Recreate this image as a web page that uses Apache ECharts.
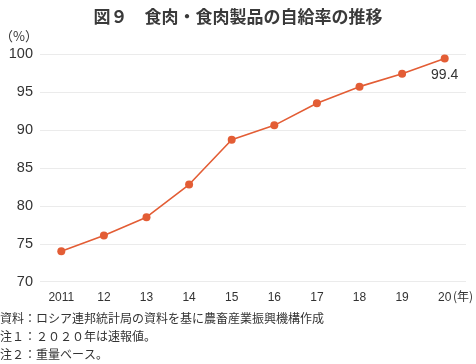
<!DOCTYPE html>
<html><head><meta charset="utf-8">
<script src="https://cdn.jsdelivr.net/npm/echarts@6/dist/echarts.min.js"></script>
<style>html,body{margin:0;padding:0;background:#fff}#c{width:476px;height:364px}</style>
</head><body><div id="c"></div>
<script>
var categories = ['2011','12','13','14','15','16','17','18','19','20'];
var values = [74.0, 76.1, 78.5, 82.8, 88.7, 90.6, 93.5, 95.7, 97.4, 99.4];
var yTicks = [70, 75, 80, 85, 90, 95, 100];
var titleText = '図９　食肉・食肉製品の自給率の推移';
var notes = ['資料：ロシア連邦統計局の資料を基に農畜産業振興機構作成','注１：２０２０年は速報値。','注２：重量ベース。'];
var FONT = '"Noto Sans CJK JP", "Noto Sans", sans-serif';
var NUM = '"Liberation Sans", Arial, sans-serif';
var chart = echarts.init(document.getElementById('c'), null, {renderer:'canvas'});
chart.setOption({
  animation:false,
  backgroundColor:'#fff',
  title:{text:titleText,left:'center',top:3,textStyle:{fontFamily:FONT,fontSize:17,fontWeight:'bold',color:'#3a3a3a'}},
  grid:{left:40,right:10,top:54,bottom:82.3,containLabel:false},
  xAxis:{type:'category',data:categories,boundaryGap:true,
    axisLine:{show:false},axisTick:{show:false},
    axisLabel:{margin:10,fontFamily:NUM,fontSize:12,color:'#333'}},
  yAxis:{type:'value',min:yTicks[0],max:yTicks[yTicks.length-1],interval:5,
    axisLine:{show:false},axisTick:{show:false},
    axisLabel:{margin:7,fontFamily:NUM,fontSize:14.5,color:'#333'},
    splitLine:{lineStyle:{color:'#ebebeb',width:1}}},
  series:[{type:'line',data:values,symbol:'circle',symbolSize:8,
    itemStyle:{color:'#E35D35'},lineStyle:{color:'#E35D35',width:1.6},
    label:{show:true,formatter:function(p){return p.dataIndex===values.length-1?String(p.value):'';},
      position:'bottom',distance:6,fontFamily:NUM,fontSize:14,color:'#333'}}],
  graphic:[
    {type:'text',left:0,top:30,style:{text:'（%）',font:'13px '+FONT,fill:'#333'}},
    {type:'text',left:453,top:290,style:{text:'(年)',font:'12px '+FONT,fill:'#333'}},
    {type:'text',left:0,top:312,style:{text:notes[0],font:'12px '+FONT,fill:'#333'}},
    {type:'text',left:0,top:330,style:{text:notes[1],font:'12px '+FONT,fill:'#333'}},
    {type:'text',left:0,top:348,style:{text:notes[2],font:'12px '+FONT,fill:'#333'}}
  ]
});
</script></body></html>
